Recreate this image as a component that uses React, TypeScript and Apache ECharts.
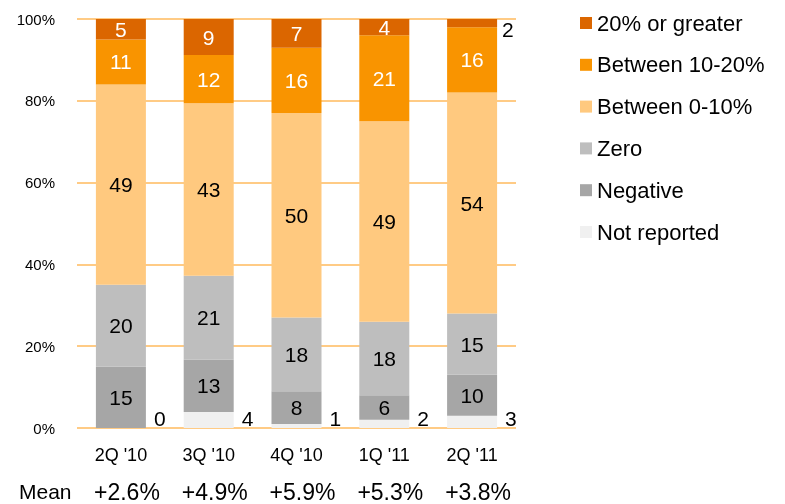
import React, { useEffect, useRef } from "react";
import * as echarts from "echarts";

const categories = ["2Q '10", "3Q '10", "4Q '10", "1Q '11", "2Q '11"];
const means = ["+2.6%", "+4.9%", "+5.9%", "+5.3%", "+3.8%"];
const notReported = [0, 4, 1, 2, 3];
const negative = [15, 13, 8, 6, 10];
const zero = [20, 21, 18, 18, 15];
const between0to10 = [49, 43, 50, 49, 54];
const between10to20 = [11, 12, 16, 21, 16];
const twentyPlus = [5, 9, 7, 4, 2];
const yTicks = [0, 20, 40, 60, 80, 100];

const FONT = "'Liberation Sans', Arial, sans-serif";
const LBL = 21;

export default function App() {
  const ref = useRef<HTMLDivElement>(null);
  useEffect(() => {
    if (!ref.current) return;
    const chart = echarts.init(ref.current, null, { renderer: "svg" });
    const all = [notReported, negative, zero, between0to10, between10to20, twentyPlus];
    const totals = categories.map((_, i) => all.reduce((s, a) => s + a[i], 0));
    const norm = (arr: number[]) => arr.map((v, i) => (v * 100) / totals[i]);

    const defs = [
      { name: "Not reported", data: notReported, color: "#F0F0F0", label: "#000", kind: "outside" },
      { name: "Negative", data: negative, color: "#A6A6A6", label: "#000", kind: "inside" },
      { name: "Zero", data: zero, color: "#BEBEBE", label: "#000", kind: "inside" },
      { name: "Between 0-10%", data: between0to10, color: "#FFC97F", label: "#000", kind: "inside" },
      { name: "Between 10-20%", data: between10to20, color: "#F99400", label: "#fff", kind: "inside" },
      { name: "20% or greater", data: twentyPlus, color: "#DB6600", label: "#fff", kind: "top" },
    ];

    const series = defs.map((d) => {
      const n = norm(d.data);
      return {
        name: d.name,
        type: "bar",
        stack: "total",
        barWidth: 50,
        itemStyle: { color: d.color },
        data: n.map((v, i) => {
          const raw = d.data[i];
          let label: any;
          if (d.kind === "outside") {
            label = {
              show: true,
              position: ["100%", "100%"],
              align: "left",
              verticalAlign: "bottom",
              offset: [8, 1],
              color: "#000",
              fontSize: LBL,
              fontFamily: FONT,
              formatter: String(raw),
            };
          } else if (d.kind === "top" && raw < 3) {
            label = {
              show: true,
              position: ["100%", "0%"],
              align: "left",
              verticalAlign: "top",
              offset: [5, 0],
              color: "#000",
              fontSize: LBL,
              fontFamily: FONT,
              formatter: String(raw),
            };
          } else {
            label = {
              show: true,
              position: "inside",
              color: d.label,
              fontSize: LBL,
              fontFamily: FONT,
              formatter: String(raw),
            };
          }
          return { value: v, label };
        }),
      };
    });

    chart.setOption({
      animation: false,
      textStyle: { fontFamily: FONT },
      grid: { left: 77, right: 269, top: 19, bottom: 76, containLabel: false },
      legend: {
        orient: "vertical",
        left: 580,
        top: 12,
        padding: 0,
        icon: "rect",
        itemWidth: 12,
        itemHeight: 12,
        itemTextGap: 5,
        itemGap: 19.8,
        data: ["20% or greater", "Between 10-20%", "Between 0-10%", "Zero", "Negative", "Not reported"],
        textStyle: { fontSize: 22, color: "#000", fontFamily: FONT },
        selectedMode: false,
      },
      xAxis: [
        {
          type: "category",
          data: categories,
          position: "bottom",
          axisLine: { show: false },
          axisTick: { show: false },
          axisLabel: { margin: 18, fontSize: 18, color: "#000", fontFamily: FONT },
        },
        {
          type: "category",
          data: means,
          position: "bottom",
          axisLine: { show: false },
          axisTick: { show: false },
          axisLabel: { margin: 52, fontSize: 23, color: "#000", fontFamily: FONT, padding: [0, 0, 0, 12] },
        },
      ],
      yAxis: {
        type: "value",
        min: yTicks[0],
        max: yTicks[yTicks.length - 1],
        interval: yTicks[1] - yTicks[0],
        axisLine: { show: false },
        axisTick: { show: false },
        axisLabel: { formatter: "{value}%", fontSize: 15, color: "#000", margin: 22, fontFamily: FONT },
        splitLine: { lineStyle: { color: "#FFCB85", width: 2 } },
      },
      graphic: [
        {
          type: "text",
          left: 19,
          top: 481,
          style: { text: "Mean", fontSize: 21, fill: "#000", fontFamily: FONT },
        },
      ],
      series,
    });
    return () => chart.dispose();
  }, []);
  return <div ref={ref} style={{ position: "fixed", left: 0, top: 0, width: 785, height: 504 }} />;
}
